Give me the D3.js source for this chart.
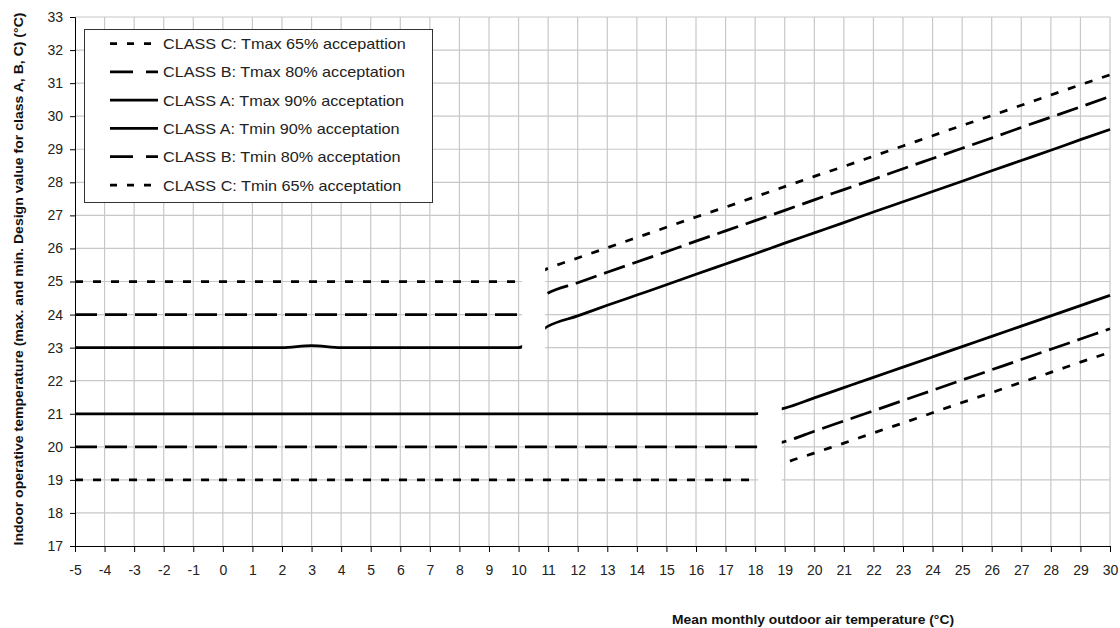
<!DOCTYPE html>
<html>
<head>
<meta charset="utf-8">
<script src="https://cdnjs.cloudflare.com/ajax/libs/d3/7.8.5/d3.min.js"></script>
<style>
  body { margin: 0; background: #fff; }
  .tick text { font-family: "Liberation Sans", Arial, sans-serif; font-size: 14px; fill: #222; }
  .axisTitle { font-family: "Liberation Sans", Arial, sans-serif; font-size: 12.5px; font-weight: bold; fill: #111; }
  .legendText { font-family: "Liberation Sans", Arial, sans-serif; font-size: 15px; fill: #222; }
</style>
</head>
<body>
<script>

// outdoor temperature categories (x axis)
const outdoorTemp = [-5, -4, -3, -2, -1, 0, 1, 2, 3, 4, 5, 6, 7, 8, 9, 10, 11, 12, 13, 14, 15, 16, 17,
                     18, 19, 20, 21, 22, 23, 24, 25, 26, 27, 28, 29, 30];

// series values, one per outdoor temperature
const classCTmax = [25, 25, 25, 25, 25, 25, 25, 25, 25, 25, 25, 25, 25, 25, 25, 25,
                    25.40, 25.71, 26.02, 26.33, 26.64, 26.95, 27.25, 27.56, 27.87, 28.18,
                    28.48, 28.79, 29.10, 29.41, 29.72, 30.02, 30.33, 30.64, 30.95, 31.25];
const classBTmax = [24, 24, 24, 24, 24, 24, 24, 24, 24, 24, 24, 24, 24, 24, 24, 24,
                    24.65, 24.96, 25.28, 25.59, 25.90, 26.22, 26.53, 26.84, 27.15, 27.47,
                    27.78, 28.09, 28.41, 28.72, 29.03, 29.34, 29.66, 29.97, 30.28, 30.60];
const classATmax = [23, 23, 23, 23, 23, 23, 23, 23, 23.06, 23, 23, 23, 23, 23, 23, 23,
                    23.65, 23.96, 24.28, 24.59, 24.90, 25.22, 25.53, 25.84, 26.16, 26.47,
                    26.78, 27.10, 27.41, 27.72, 28.03, 28.35, 28.66, 28.97, 29.29, 29.60];
const classATmin = [21, 21, 21, 21, 21, 21, 21, 21, 21, 21, 21, 21, 21, 21, 21, 21, 21, 21, 21, 21, 21, 21, 21, 21,
                    21.17, 21.48, 21.79, 22.10, 22.41, 22.72, 23.03, 23.34, 23.65, 23.96, 24.27, 24.58];
const classBTmin = [20, 20, 20, 20, 20, 20, 20, 20, 20, 20, 20, 20, 20, 20, 20, 20, 20, 20, 20, 20, 20, 20, 20, 20,
                    20.16, 20.47, 20.78, 21.09, 21.40, 21.71, 22.02, 22.33, 22.64, 22.95, 23.26, 23.57];
const classCTmin = [19, 19, 19, 19, 19, 19, 19, 19, 19, 19, 19, 19, 19, 19, 19, 19, 19, 19, 19, 19, 19, 19, 19, 19,
                    19.50, 19.81, 20.11, 20.42, 20.72, 21.03, 21.34, 21.64, 21.95, 22.25, 22.56, 22.86];

const seriesNames = ["CLASS C: Tmax 65% accepattion", "CLASS B: Tmax 80% acceptation",
                     "CLASS A: Tmax 90% acceptation", "CLASS A: Tmin 90% acceptation",
                     "CLASS B: Tmin 80% acceptation", "CLASS C: Tmin 65% acceptation"];
const seriesValues = [classCTmax, classBTmax, classATmax, classATmin, classBTmin, classCTmin];

// y tick values
const yTicks = [17, 18, 19, 20, 21, 22, 23, 24, 25, 26, 27, 28, 29, 30, 31, 32, 33];

// gaps where the step between the flat and the sloped parts is blanked out: [x0, x1, y0, y1]
const gapBoxes = [[10.12, 10.9, 22.6, 25.7], [18.1, 18.9, 18.6, 21.5]];

// chart parameters
let svgWidth = 1120;
let svgHeight = 628;

var margin = { top: 17, right: 10, bottom: 82, left: 75 };

let width = svgWidth - margin.left - margin.right;
let height = svgHeight - margin.top - margin.bottom;

let svg = d3.select("body")
    .append("svg")
    .attr("width", svgWidth)
    .attr("height", svgHeight);

let chartGroup = svg.append("g")
    .attr("transform", `translate(${margin.left}, ${margin.top})`);

// scales
let xScale = d3.scaleLinear().domain([-5, 30]).range([0, width]);
let yScale = d3.scaleLinear().domain([17, 33]).range([height, 0]);

// gridlines
chartGroup.append("g")
    .selectAll("line")
    .data(outdoorTemp.slice(1))
    .enter()
    .append("line")
    .attr("x1", d => xScale(d)).attr("x2", d => xScale(d))
    .attr("y1", 0).attr("y2", height)
    .attr("stroke", "#c8c8c8")
    .attr("stroke-width", 1.2);

chartGroup.append("g")
    .selectAll("line")
    .data(yTicks.slice(1))
    .enter()
    .append("line")
    .attr("x1", 0).attr("x2", width)
    .attr("y1", d => yScale(d)).attr("y2", d => yScale(d))
    .attr("stroke", "#c8c8c8")
    .attr("stroke-width", 1.2);

// dash styles for each series
const dashes = ["8,10", "22,8", null, null, "22,8", "8,10"];
const legendDashes = ["7,10", "23,13", null, null, "23,13", "7,10"];

let line = d3.line()
    .x((d, i) => xScale(outdoorTemp[i]))
    .y(d => yScale(d))
    .curve(d3.curveMonotoneX);

chartGroup.append("g")
    .selectAll("path")
    .data(seriesValues)
    .enter()
    .append("path")
    .attr("d", d => line(d))
    .attr("fill", "none")
    .attr("stroke", "#000")
    .attr("stroke-width", 2.75)
    .attr("stroke-dasharray", (d, i) => dashes[i]);

// white boxes over the step
chartGroup.append("g")
    .selectAll("rect")
    .data(gapBoxes)
    .enter()
    .append("rect")
    .attr("x", d => xScale(d[0]))
    .attr("width", d => xScale(d[1]) - xScale(d[0]))
    .attr("y", d => yScale(d[3]))
    .attr("height", d => yScale(d[2]) - yScale(d[3]))
    .attr("fill", "#fff");

// axes (plain hyphen for negatives)
let bottomAxis = d3.axisBottom(xScale).tickValues(outdoorTemp).tickSize(6).tickPadding(13).tickFormat(d => String(d));
let leftAxis = d3.axisLeft(yScale).tickValues(yTicks).tickSize(5).tickPadding(7).tickFormat(d => String(d));

chartGroup.append("g")
    .attr("transform", `translate(0, ${height})`)
    .call(bottomAxis)
    .call(g => g.select(".domain").attr("stroke", "#000"));

chartGroup.append("g")
    .call(leftAxis)
    .call(g => g.select(".domain").attr("stroke", "#000"));

// legend
let legend = svg.append("g");

legend.append("rect")
    .attr("x", 84.5).attr("y", 29.5)
    .attr("width", 348).attr("height", 173)
    .attr("fill", "#fff")
    .attr("stroke", "#333")
    .attr("stroke-width", 1);

let legendRow = legend.selectAll(".row")
    .data(seriesNames)
    .enter()
    .append("g")
    .attr("transform", (d, i) => `translate(0, ${43.5 + i * 28.3})`);

legendRow.append("line")
    .attr("x1", 110).attr("x2", 158)
    .attr("y1", 0).attr("y2", 0)
    .attr("stroke", "#000")
    .attr("stroke-width", 2.75)
    .attr("stroke-dasharray", (d, i) => legendDashes[i]);

// the original text is a little wider than Arial, so stretch it
legendRow.append("text")
    .attr("class", "legendText")
    .attr("x", 163)
    .attr("y", 5.5)
    .text(d => d)
    .each(function() {
        let w = this.getComputedTextLength();
        d3.select(this).attr("textLength", w * 1.08).attr("lengthAdjust", "spacingAndGlyphs");
    });

// axis titles
svg.append("text")
    .attr("class", "axisTitle")
    .attr("transform", "translate(23, 279) rotate(-90)")
    .attr("text-anchor", "middle")
    .attr("textLength", 533)
    .attr("lengthAdjust", "spacingAndGlyphs")
    .text("Indoor operative temperature (max. and min. Design value for class A, B, C) (°C)");

svg.append("text")
    .attr("class", "axisTitle")
    .attr("x", 813)
    .attr("y", 624)
    .attr("text-anchor", "middle")
    .attr("textLength", 282)
    .attr("lengthAdjust", "spacingAndGlyphs")
    .text("Mean monthly outdoor air temperature (°C)");

</script>
</body>
</html>
